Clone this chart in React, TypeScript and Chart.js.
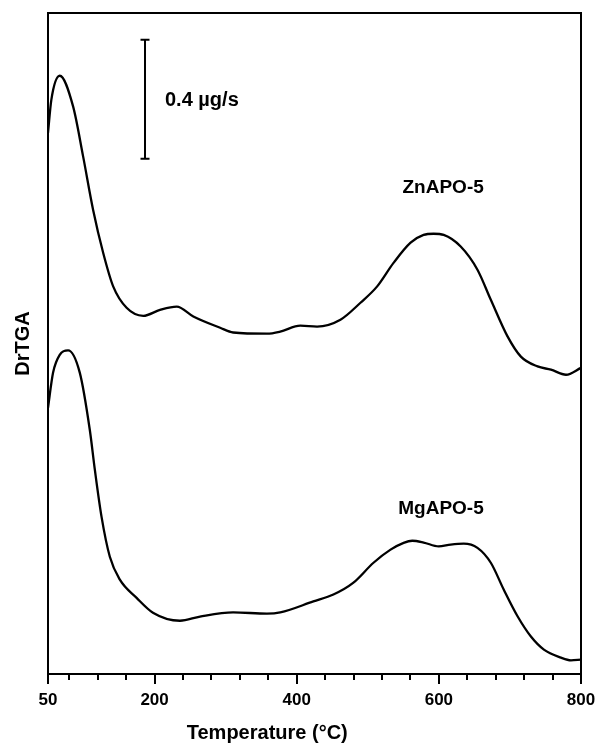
import React, { useEffect, useRef } from 'react';
import { Chart, registerables } from 'chart.js';

Chart.register(...registerables);

// ---- Data ----
const znTemperature = [50, 54.7, 66.5, 85.3, 99.4, 113.5, 127.6, 141.7, 160.6, 184.0, 207.6, 231.1, 254.5, 292.2, 310.5, 358.1, 376.8, 405.0, 428.6, 461.5, 489.7, 513.2, 536.2, 560.2, 578.5, 592.6, 606.8, 630.7, 654.3, 673.1, 696.6, 715.4, 738.9, 757.7, 778.9, 800];
const znDrtga = [1.819, 1.930, 2.011, 1.908, 1.740, 1.560, 1.416, 1.303, 1.231, 1.204, 1.224, 1.235, 1.202, 1.164, 1.148, 1.144, 1.151, 1.171, 1.168, 1.191, 1.248, 1.303, 1.382, 1.450, 1.476, 1.480, 1.476, 1.437, 1.359, 1.258, 1.135, 1.067, 1.034, 1.023, 1.006, 1.029];

const mgTemperature = [50, 57.1, 66.5, 78.2, 94.7, 108.8, 115.9, 125.3, 137.0, 151.1, 174.7, 197.7, 235.7, 263.9, 310.5, 358.1, 376.8, 423.4, 451.6, 479.8, 508.0, 532.0, 550.4, 562.6, 578.6, 599.7, 616.6, 635.0, 654.3, 673.1, 691.4, 710.7, 729.5, 747.8, 771.8, 785.9, 800];
const mgDrtga = [0.895, 1.013, 1.073, 1.088, 1.013, 0.821, 0.687, 0.529, 0.394, 0.317, 0.256, 0.206, 0.179, 0.193, 0.207, 0.203, 0.207, 0.244, 0.267, 0.307, 0.374, 0.418, 0.441, 0.448, 0.442, 0.429, 0.435, 0.438, 0.424, 0.374, 0.283, 0.194, 0.126, 0.082, 0.055, 0.046, 0.048];

const seriesNames = ['ZnAPO-5', 'MgAPO-5'];
const seriesLabelPositions = [[606, 1.634], [603, 0.556]]; // [temperature, DrTGA] for label centres

const majorTicks = [50, 200, 400, 600, 800];
const minorTicks = [80, 120, 160, 240, 280, 320, 360, 440, 480, 520, 560, 640, 680, 720, 760];

const scaleBarTemperature = 186.5;
const scaleBarTop = 2.132;
const scaleBarSize = 0.4;
const scaleBarText = '0.4 µg/s';
const scaleBarTextTemperature = 214.6;

const xMin = 50;
const xMax = 800;
const yMin = 0;
const yMax = 2.222;

const FONT = '"Liberation Sans", Arial, sans-serif';

const decorPlugin = {
  id: 'decor',
  afterDraw(chart: any) {
    const { ctx, chartArea } = chart;
    const xs = chart.scales.x;
    const ys = chart.scales.y;
    ctx.save();
    ctx.strokeStyle = '#000';
    ctx.fillStyle = '#000';
    // frame
    ctx.lineWidth = 2;
    ctx.strokeRect(chartArea.left, chartArea.top, chartArea.right - chartArea.left, chartArea.bottom - chartArea.top);
    // tick marks
    ctx.lineWidth = 2;
    const drawTick = (v: number, len: number) => {
      const px = Math.round(xs.getPixelForValue(v));
      ctx.beginPath();
      ctx.moveTo(px, chartArea.bottom);
      ctx.lineTo(px, chartArea.bottom + len);
      ctx.stroke();
    };
    majorTicks.forEach((v) => drawTick(v, 10));
    minorTicks.forEach((v) => drawTick(v, 6));

    // scale bar
    const bx = xs.getPixelForValue(scaleBarTemperature);
    const by1 = ys.getPixelForValue(scaleBarTop);
    const by2 = ys.getPixelForValue(scaleBarTop - scaleBarSize);
    ctx.lineWidth = 2;
    ctx.beginPath();
    ctx.moveTo(bx, by1);
    ctx.lineTo(bx, by2);
    ctx.moveTo(bx - 4.5, by1);
    ctx.lineTo(bx + 4.5, by1);
    ctx.moveTo(bx - 4.5, by2);
    ctx.lineTo(bx + 4.5, by2);
    ctx.stroke();
    ctx.font = `bold 20px ${FONT}`;
    ctx.textAlign = 'left';
    ctx.textBaseline = 'middle';
    ctx.fillText(scaleBarText, xs.getPixelForValue(scaleBarTextTemperature), (by1 + by2) / 2 + 1);

    // series labels
    ctx.font = `bold 19px ${FONT}`;
    ctx.textAlign = 'center';
    seriesNames.forEach((name, i) => {
      const [t, v] = seriesLabelPositions[i];
      ctx.fillText(name, xs.getPixelForValue(t), ys.getPixelForValue(v));
    });

    // x axis title
    ctx.font = `bold 20px ${FONT}`;
    ctx.textAlign = 'center';
    ctx.textBaseline = 'middle';
    ctx.fillText('Temperature (°C)', xs.getPixelForValue(358.5), chartArea.bottom + 59);
    ctx.restore();
  },
};

export default function App() {
  const canvasRef = useRef<HTMLCanvasElement | null>(null);

  useEffect(() => {
    if (!canvasRef.current) return;
    const chart = new Chart(canvasRef.current, {
      type: 'line',
      data: {
        datasets: [
          {
            label: seriesNames[0],
            data: znTemperature.map((t, i) => ({ x: t, y: znDrtga[i] })),
            borderColor: '#000',
            borderWidth: 2.3,
            pointRadius: 0,
            cubicInterpolationMode: 'monotone',
            fill: false,
          },
          {
            label: seriesNames[1],
            data: mgTemperature.map((t, i) => ({ x: t, y: mgDrtga[i] })),
            borderColor: '#000',
            borderWidth: 2.3,
            pointRadius: 0,
            cubicInterpolationMode: 'monotone',
            fill: false,
          },
        ],
      },
      options: {
        responsive: false,
        animation: false,
        events: [],
        layout: { padding: { left: 0, top: 13, right: 15, bottom: 0 } },
        plugins: {
          legend: { display: false },
          tooltip: { enabled: false },
        },
        scales: {
          x: {
            type: 'linear',
            min: xMin,
            max: xMax,
            grid: { display: false, drawTicks: false },
            border: { display: false },
            afterBuildTicks: (scale: any) => {
              scale.ticks = majorTicks.map((v) => ({ value: v }));
            },
            afterFit: (scale: any) => {
              scale.height = 71;
              scale.paddingLeft = 0;
              scale.paddingRight = 0;
            },
            ticks: {
              autoSkip: false,
              maxRotation: 0,
              minRotation: 0,
              padding: 16,
              color: '#000',
              font: { family: FONT, size: 17, weight: 'bold' },
              callback: (v: any) => String(v),
            },
          },
          y: {
            type: 'linear',
            min: yMin,
            max: yMax,
            grid: { display: false, drawTicks: false },
            border: { display: false },
            ticks: { display: false },
            afterFit: (scale: any) => {
              scale.width = 48;
              scale.paddingTop = 0;
              scale.paddingBottom = 0;
            },
            title: {
              display: true,
              text: 'DrTGA',
              color: '#000',
              font: { family: FONT, size: 20, weight: 'bold' },
              padding: { top: 11, bottom: 0 },
            },
          },
        },
      },
      plugins: [decorPlugin],
    } as any);
    return () => chart.destroy();
  }, []);

  return (
    <div style={{ position: 'absolute', left: 0, top: 0, width: 596, height: 745, background: '#fff' }}>
      <canvas ref={canvasRef} width={596} height={745} style={{ display: 'block' }} />
    </div>
  );
}
